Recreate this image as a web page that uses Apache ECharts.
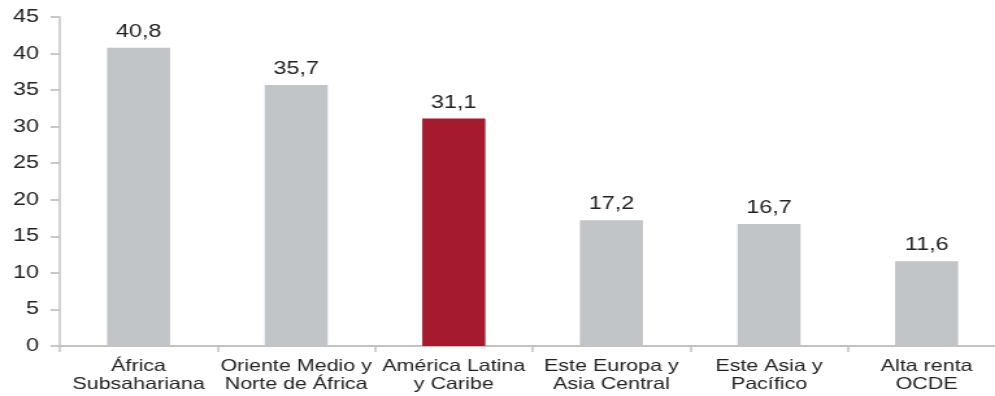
<!DOCTYPE html>
<html><head><meta charset="utf-8">
<script src="https://cdn.jsdelivr.net/npm/echarts@6/dist/echarts.min.js"></script>
<style>
html,body{margin:0;padding:0;background:#fff;overflow:hidden}
#wrap{width:995px;height:396px;overflow:hidden}
/* reference glyphs are horizontally stretched; render narrower and stretch */
#c{width:766px;height:396px;transform:scaleX(1.299);transform-origin:0 0}
</style>
</head><body><div id="wrap"><div id="c"></div></div>
<script>
const categories = ["África\nSubsahariana", "Oriente Medio y\nNorte de África", "América Latina\ny Caribe", "Este Europa y\nAsia Central", "Este Asia y\nPacífico", "Alta renta\nOCDE"];
const values = [40.8, 35.7, 31.1, 17.2, 16.7, 11.6];
const highlightIndex = 2;
const yTicks = [0, 5, 10, 15, 20, 25, 30, 35, 40, 45];

const chart = echarts.init(document.getElementById('c'), null, {renderer: 'canvas'});
const font = 'Liberation Sans, Arial, sans-serif';
const axisColor = '#c2c2c2';
chart.setOption({
  animation: false,
  grid: {left: 46, top: 17, right: -8, bottom: 50, containLabel: false, outerBoundsMode: 'none'},
  xAxis: {
    type: 'category', data: categories,
    axisLine: {lineStyle: {color: axisColor, width: 1.8}},
    axisTick: {show: true, alignWithLabel: false, length: 6, lineStyle: {color: axisColor, width: 1.5}},
    axisLabel: {color: '#222', fontFamily: font, fontSize: 16.5, lineHeight: 18.5, margin: 11, interval: 0}
  },
  yAxis: {
    type: 'value', min: yTicks[0], max: yTicks[yTicks.length - 1], interval: 5,
    splitLine: {show: false},
    axisLine: {show: true, lineStyle: {color: axisColor, width: 1.5}},
    axisTick: {show: true, length: 7, lineStyle: {color: axisColor, width: 1.8}},
    axisLabel: {color: '#222', fontFamily: font, fontSize: 18, margin: 16}
  },
  series: [{
    type: 'bar', barWidth: '40%',
    data: values.map((v, i) => ({value: v, itemStyle: {color: i === highlightIndex ? '#a51a2f' : '#c1c5c8'}})),
    label: {
      show: true, position: 'top', distance: 7, color: '#222', fontFamily: font, fontSize: 18,
      formatter: p => p.value.toFixed(1).replace('.', ',')
    }
  }]
});
</script></body></html>
